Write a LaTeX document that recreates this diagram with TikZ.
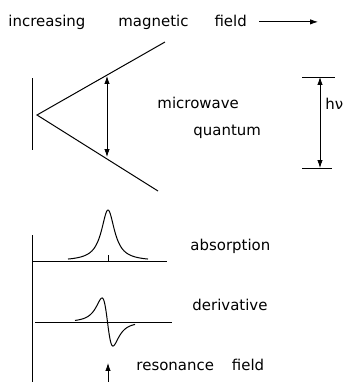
\documentclass[tikz,border=0pt]{standalone}
\usepackage{fontspec}
\setmainfont{DejaVu Sans}
\usetikzlibrary{arrows.meta}

\begin{document}
\begin{tikzpicture}[
  x=1bp, y=-1bp,
  line width=1pt,
  label/.style={inner sep=0pt, font=\fontsize{15}{18}\selectfont, anchor=base west},
  arrow/.style={-{Latex[length=2.8mm,width=1.9mm]}},
  dblarrow/.style={{Latex[length=2.8mm,width=1.9mm]}-{Latex[length=2.8mm,width=1.9mm]}}
]
\useasboundingbox (0,0) rectangle (350,382);
% heading
\node[label] (title) at (8,26) {increasing\hspace{33bp}magnetic\hspace{26bp}field};
\coordinate (fieldTip) at (318,20);
\draw[arrow, line width=0.8pt] ([xshift=12bp]title.east) -- (title.east -| fieldTip);
% level diagram
\coordinate (vtx) at (37,115);
\coordinate (upEnd) at (165,42);
\coordinate (loEnd) at (158,191);
\draw (32,78) -- (32,150);
\draw (upEnd) -- (vtx) -- (loEnd);
\coordinate (qTop) at (107,76);
\coordinate (qBot) at (107,157);
\draw[dblarrow, line width=0.8pt] (qTop) -- (qBot);
\node[label] (microwave) at (157,108) {microwave};
\node[label] (quantum) at (193,135) {quantum};
% energy scale
\draw (302,77) -- (335,77);
\draw (302,168) -- (332,168);
\coordinate (hvTop) at (320,77);
\coordinate (hvBot) at (320,168);
\draw[dblarrow, line width=0.8pt] (hvTop) -- (hvBot);
\node[label] (hnu) at (325,109) {hν};
% spectra
\draw (32,235) -- (32,382);
\draw (32,261) -- (167,261);
\draw (108,261) -- (108,255);
\draw[smooth, samples=120, domain=68:148] plot (\x, {261-51/(1+((\x-108)/8)^2)});
\node[label] (absorption) at (190,250) {absorption};
\draw (35,322) -- (172,322);
\draw[smooth, samples=120, domain=75:135] plot (\x, {322+37*2*((\x-107.5)/9.5)/(1+((\x-107.5)/9.5)^2)^2});
\node[label] (derivative) at (192,310) {derivative};
\node[label] (resonance) at (136,370) {resonance\hspace{18bp}field};
\coordinate (resBot) at (108,382);
\coordinate (resTop) at (108,363);
\draw[arrow, line width=0.8pt] (resBot) -- (resTop);
\end{tikzpicture}
\end{document}
